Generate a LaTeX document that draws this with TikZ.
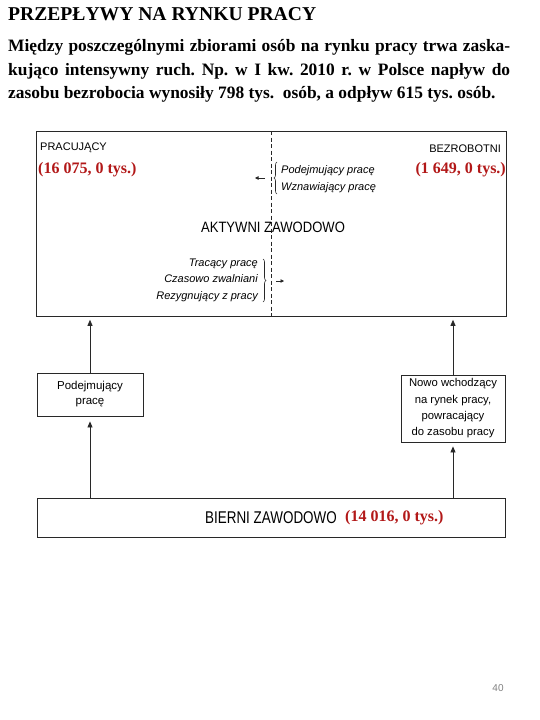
\documentclass[tikz,border=0pt]{standalone}
\usepackage{fontspec}
\usepackage{graphicx}
\setmainfont{Liberation Serif}
\setsansfont{Liberation Sans}
\usetikzlibrary{arrows.meta,decorations.pathreplacing}
\definecolor{numred}{RGB}{178,24,24}
\definecolor{linegray}{RGB}{40,40,40}
\definecolor{pagegray}{RGB}{128,128,128}
\frenchspacing
\begin{document}
\begin{tikzpicture}[x=1pt,y=-1pt,
  frame/.style={draw=linegray, line width=0.8pt},
  flowarrow/.style={draw=linegray, line width=0.8pt, -{Triangle[length=6pt,width=5pt]}},
  smallarrow/.style={draw=linegray, line width=0.6pt, -{Triangle[length=3.5pt,width=3.5pt]}},
  lbl/.style={font=\sffamily\fontsize{11}{13}\selectfont, inner sep=0pt},
  itl/.style={font=\sffamily\itshape\fontsize{11}{16.5}\selectfont, inner sep=0pt},
  num/.style={font=\bfseries\fontsize{16}{18}\selectfont, text=numred, inner sep=0pt},
  brc/.style={draw=linegray, line width=0.6pt, decorate, decoration={brace, amplitude=3pt}},
  para/.style={anchor=base west, inner sep=0pt, font=\bfseries\fontsize{17.4}{23}\selectfont},
]
\useasboundingbox (0,0) rectangle (540,720);

% title and paragraph
\node[anchor=base west, inner sep=0pt, font=\bfseries\fontsize{19.6}{22}\selectfont] (title) at (8,20.5) {PRZEPŁYWY NA RYNKU PRACY};
\node[para] (l1) at (8,51.5) {\makebox[502pt][s]{Między poszczególnymi zbiorami osób na rynku pracy trwa zaska-}};
\node[para] (l2) at (8,75) {\makebox[502pt][s]{kująco intensywny ruch. Np. w I kw. 2010 r. w Polsce napływ do}};
\node[para] (l3) at (8,98.5) {zasobu bezrobocia wynosiły 798 tys.\ \ osób, a odpływ 615 tys. osób.};

% main box
\node[frame, minimum width=470pt, minimum height=185pt, anchor=north west, inner sep=0pt] (aktywni) at (36,131) {};
\coordinate (dtop) at (271,131);
\coordinate (dbot) at (271,316);
\draw[linegray, line width=0.6pt, dash pattern=on 4pt off 2.5pt] (dtop) -- (dbot);

\node[lbl, anchor=west] (prac) at (40,148) {PRACUJĄCY};
\node[num, anchor=west] (pracnum) at (38,170) {(16 075, 0 tys.)};
\node[lbl, anchor=east] (bezr) at (501,149) {BEZROBOTNI};
\node[num, anchor=east] (bezrnum) at (506,170) {(1 649, 0 tys.)};

\node[itl, anchor=west, align=left] (dopracy) at (281,179) {Podejmujący pracę\\Wznawiający pracę};
\draw[brc] (277,194) -- (277,162);
\coordinate (la1) at (265,178);
\coordinate (la2) at (255,178);
\draw[smallarrow] (la1) -- (la2);

\node[font=\sffamily\fontsize{15}{17}\selectfont, inner sep=0pt] (akt) at (273,227) {\scalebox{0.87}[1]{AKTYWNI ZAWODOWO}};

\node[itl, anchor=east, align=right] (dobezr) at (258,280) {Tracący pracę\\Czasowo zwalniani\\Rezygnujący z pracy};
\draw[brc] (263,259) -- (263,302);
\coordinate (ra1) at (276,281);
\coordinate (ra2) at (284,281);
\draw[smallarrow] (ra1) -- (ra2);

% lower boxes
\node[frame, minimum width=106pt, minimum height=43pt, inner sep=0pt, align=center, font=\sffamily\fontsize{11.5}{15}\selectfont] (pod) at (90,394.5) {Podejmujący\\pracę};
\node[frame, minimum width=104pt, minimum height=67pt, inner sep=0pt, align=center, font=\sffamily\fontsize{11.3}{16.3}\selectfont] (nowo) at (453,408.5) {Nowo wchodzący\\na rynek pracy,\\powracający\\do zasobu pracy};
\node[frame, minimum width=468pt, minimum height=39pt, inner sep=0pt] (bierni) at (271,517.5) {};
\node[font=\sffamily\fontsize{17}{19}\selectfont, inner sep=0pt, anchor=west] (biernilbl) at (205,518) {\scalebox{0.79}[1]{BIERNI ZAWODOWO}};
\node[num, anchor=west] (biernum) at (345,518) {(14 016, 0 tys.)};

% arrows
\draw[flowarrow, shorten >=3pt] (pod.north) -- (pod.north |- aktywni.south);
\draw[flowarrow, shorten >=3pt] (nowo.north) -- (nowo.north |- aktywni.south);
\draw[flowarrow, shorten >=5pt] (bierni.north -| pod.south) -- (pod.south);
\draw[flowarrow, shorten >=4pt] (bierni.north -| nowo.south) -- (nowo.south);

\node[font=\sffamily\fontsize{10}{12}\selectfont, text=pagegray, inner sep=0pt] (pagenum) at (498,688) {40};
\end{tikzpicture}
\end{document}
